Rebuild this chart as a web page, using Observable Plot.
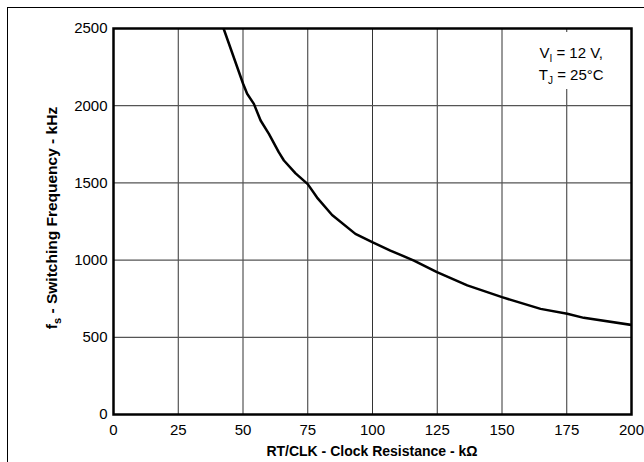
<!DOCTYPE html>
<html><head><meta charset="utf-8">
<script src="https://cdn.jsdelivr.net/npm/d3@7"></script>
<script src="https://cdn.jsdelivr.net/npm/@observablehq/plot@0.6"></script>
<style>
body{margin:0;background:#fff;}
#wrap{position:relative;width:644px;height:462px;}
#border{position:absolute;left:7px;top:7px;right:0;bottom:0;border-left:1.5px solid #000;border-top:1.5px solid #000;pointer-events:none;}
</style>
</head><body>
<div id="wrap"><div id="border"></div></div>
<script>
const resistance = [42.5,50,51.6,54.2,56.8,60,63.8,65.8,70.3,75,78.6,84.4,93.4,99.9,106.9,116,124.9,136.6,150,164.9,175.2,181.6,200];
const frequency  = [2500,2144,2077,2012,1904,1818,1699,1645,1562,1492,1405,1292,1170,1116,1062,997,922,836,760,684,652,626,580];
const xTicks = [0,25,50,75,100,125,150,175,200];
const yTicks = [0,500,1000,1500,2000,2500];
const xLabel = "RT/CLK - Clock Resistance - kΩ";
const yLabel = ["f","s"," - Switching Frequency - kHz"];
const note = [["V","I"," = 12 V,"],["T","J"," = 25°C"]];

const data = resistance.map((r,i)=>({r, f: frequency[i]}));
const font = "Liberation Sans, Arial, Helvetica, sans-serif";

const chart = Plot.plot({
  width: 644, height: 462,
  marginLeft: 113, marginRight: 13, marginTop: 28, marginBottom: 48,
  style: {fontFamily: font, fontSize: "15px", background: "transparent", color: "#000"},
  x: {domain: [0,200], ticks: xTicks, label: null},
  y: {domain: [0,2500], ticks: yTicks, label: null},
  marks: [
    Plot.gridX(xTicks.slice(1,-1), {stroke: "#333", strokeOpacity: 1, strokeWidth: 1}),
    Plot.gridY(yTicks.slice(1,-1), {stroke: "#555", strokeOpacity: 1, strokeWidth: 1.2}),
    Plot.axisX(xTicks, {tickSize: 0, tickPadding: 10, fontSize: 15, label: null, tickFormat: d => String(d)}),
    Plot.axisY(yTicks, {tickSize: 0, tickPadding: 6, fontSize: 15, label: null, tickFormat: d => String(d)}),
    Plot.line(data, {x: "r", y: "f", stroke: "#000", strokeWidth: 2.5, clip: true}),
    Plot.frame({stroke: "#000", strokeWidth: 2.5})
  ]
});
document.getElementById("wrap").appendChild(chart);

const svg = d3.select(chart);
const xs = chart.scale("x"), ys = chart.scale("y");

// annotation box
const ax = xs.apply(175), ay = ys.apply(2500);
svg.append("rect").attr("x", ax - 45).attr("y", ay + 4).attr("width", 90).attr("height", 57).attr("fill", "#fff");
note.forEach((n, i) => {
  const t = svg.append("text").attr("x", ax + 5).attr("y", ay + 30 + i * 22)
    .attr("text-anchor", "middle").attr("font-family", font).attr("font-size", 15).attr("fill", "#000");
  t.append("tspan").text(n[0]);
  t.append("tspan").attr("font-size", 10).attr("dy", 4).text(n[1]);
  t.append("tspan").attr("dy", -4).text(n[2]);
});

// axis labels
const cx = (xs.apply(0) + xs.apply(200)) / 2;
svg.append("text").attr("x", cx).attr("y", 456).attr("text-anchor", "middle")
  .attr("font-family", font).attr("font-size", 14).attr("font-weight", "bold").text(xLabel);
const cy = (ys.apply(0) + ys.apply(2500)) / 2;
const yl = svg.append("text").attr("transform", `translate(57,${cy - 3}) rotate(-90)`).attr("text-anchor", "middle")
  .attr("font-family", font).attr("font-size", 15.5).attr("font-weight", "bold");
yl.append("tspan").text(yLabel[0]);
yl.append("tspan").attr("font-size", 11).attr("dy", 4).text(yLabel[1]);
yl.append("tspan").attr("dy", -4).text(yLabel[2]);
chart.style.position = "absolute"; chart.style.left = "0"; chart.style.top = "0";
</script>
</body></html>
